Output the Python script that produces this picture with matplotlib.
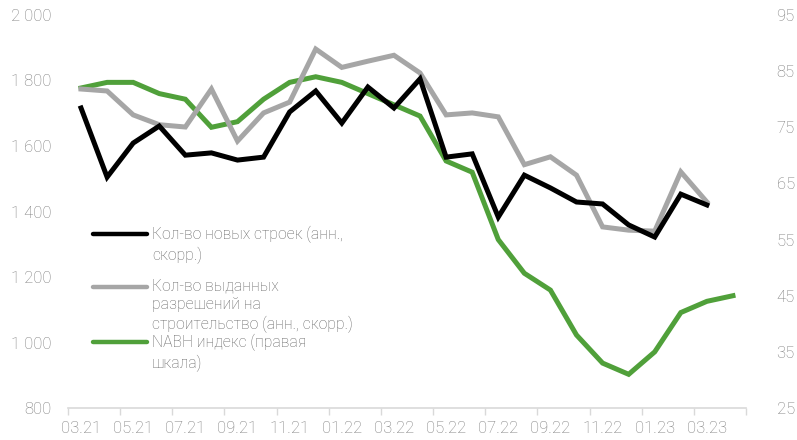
import matplotlib
matplotlib.use("Agg")
import matplotlib.pyplot as plt
from matplotlib import font_manager
from matplotlib.lines import Line2D

# pick a narrow font if one is installed
names = {f.name for f in font_manager.fontManager.ttflist}
font = "Liberation Sans Narrow" if "Liberation Sans Narrow" in names else "Roboto"
plt.rcParams["font.family"] = [font, "DejaVu Sans"]
plt.rcParams["font.weight"] = "light"

# monthly data, 03.21 .. 04.23
months = ["03.21", "04.21", "05.21", "06.21", "07.21", "08.21", "09.21", "10.21",
          "11.21", "12.21", "01.22", "02.22", "03.22", "04.22", "05.22", "06.22",
          "07.22", "08.22", "09.22", "10.22", "11.22", "12.22", "01.23", "02.23",
          "03.23", "04.23"]
starts = [1716, 1505, 1609, 1661, 1572, 1579, 1557, 1566, 1704, 1768, 1670, 1780,
          1716, 1805, 1566, 1576, 1383, 1511, 1472, 1429, 1423, 1359, 1322, 1453,
          1420]
permits = [1774, 1768, 1695, 1665, 1658, 1774, 1615, 1701, 1734, 1896, 1840, 1859,
           1877, 1823, 1695, 1701, 1689, 1543, 1567, 1511, 1353, 1343, 1340, 1521,
           1429]
nahb = [82, 83, 83, 81, 80, 75, 76, 80, 83, 84, 83, 81, 79, 77, 69, 67, 55, 49,
        46, 38, 33, 31, 35, 42, 44, 45]

labels = ["Кол-во новых строек (анн.,\nскорр.)",
          "Кол-во выданных\nразрешений на\nстроительство (анн., скорр.)",
          "NABH индекс (правая\nшкала)"]

black = "#000000"
grey = "#a6a6a6"
green = "#50a03a"
txt = "#7a7a7a"

fig = plt.figure(figsize=(7.97, 4.4), dpi=100)
ax = fig.add_axes([68 / 797, 1 - 408 / 440, (746 - 68) / 797, (408 - 15) / 440])
ax2 = ax.twinx()

ax.plot(range(len(permits)), permits, color=grey, lw=3.6, solid_joinstyle="miter")
ax.plot(range(len(starts)), starts, color=black, lw=3.6, solid_joinstyle="miter")
ax2.plot(range(len(nahb)), nahb, color=green, lw=3.6, solid_joinstyle="miter")

ax.set_zorder(ax2.get_zorder() + 1)
ax.patch.set_visible(False)

ax.set_xlim(-0.5, len(months) - 0.5)
ax.set_ylim(800, 2000)
ax2.set_ylim(25, 95)

ax.set_yticks(range(800, 2001, 200))
ax.set_yticklabels([f"{v:,}".replace(",", " ") for v in range(800, 2001, 200)])
ax2.set_yticks(range(25, 96, 10))

ax.set_xticks(range(0, len(months), 2))
ax.set_xticklabels(months[::2])
ax.set_xticks([i - 0.5 for i in range(0, len(months) + 1, 2)], minor=True)
ax.tick_params(axis="x", which="major", length=0, pad=9, labelsize=12, colors=txt)
ax.tick_params(axis="x", which="minor", length=5, width=1, color="#d9d9d9")
ax.tick_params(axis="y", length=0, pad=12, labelsize=12, colors=txt)
ax2.tick_params(axis="y", length=0, pad=22, labelsize=12, colors=txt)

for a in (ax, ax2):
    for s in a.spines.values():
        s.set_visible(False)
ax.spines["bottom"].set_visible(True)
ax.spines["bottom"].set_color("#d9d9d9")
ax.spines["bottom"].set_linewidth(1.2)

# legend drawn by hand
for lab, col, ypx in zip(labels, [black, grey, green], [234, 287, 342]):
    y = 1 - ypx / 440
    fig.add_artist(Line2D([93 / 797, 147 / 797], [y, y], color=col, lw=3.2,
                          solid_capstyle="round"))
    fig.text(152 / 797, y + 0.019, lab, fontsize=11.3, color="#666666", va="top",
             ha="left", linespacing=1.3, transform=fig.transFigure)

fig.savefig("out.png", dpi=100)
